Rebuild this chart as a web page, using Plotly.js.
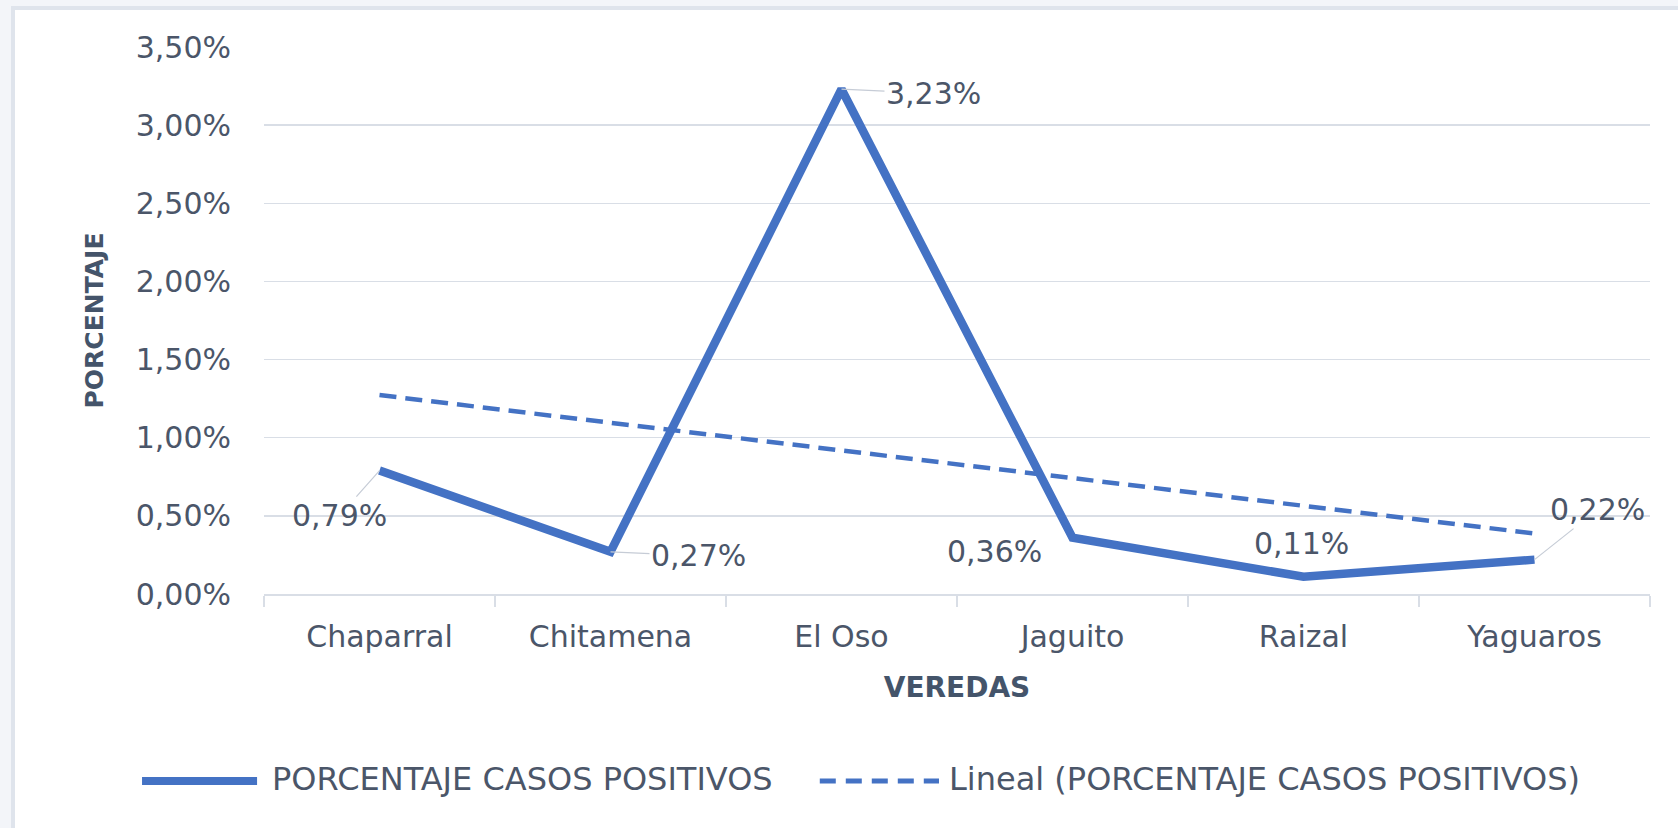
<!DOCTYPE html>
<html>
<head>
<meta charset="utf-8">
<script src="https://cdn.plot.ly/plotly-3.0.1.min.js"></script>
<style>
  html, body { margin: 0; padding: 0; background: #f3f5f9; width: 1678px; height: 828px; overflow: hidden; }
  #frame { position: absolute; left: 11px; top: 6px; width: 1667px; height: 822px; background: #ffffff;
           border-left: 4px solid #dfe4ec; border-top: 4px solid #dfe4ec; box-sizing: border-box; }
  #chart { position: absolute; left: 15px; top: 10px; width: 1663px; height: 818px; }
</style>
</head>
<body>
<div id="frame"></div>
<div id="chart"></div>
<script>
const categories = ["Chaparral", "Chitamena", "El Oso", "Jaguito", "Raizal", "Yaguaros"];
const porcentaje = [0.79, 0.27, 3.23, 0.36, 0.11, 0.22];
const seriesName = "PORCENTAJE CASOS POSITIVOS";
const trendName = "Lineal (PORCENTAJE CASOS POSITIVOS)";
const labelTexts = ["0,79%", "0,27%", "3,23%", "0,36%", "0,11%", "0,22%"];
const yTickVals = [0, 0.5, 1, 1.5, 2, 2.5, 3, 3.5];
const yTickText = ["0,00%", "0,50%", "1,00%", "1,50%", "2,00%", "2,50%", "3,00%", "3,50%"];

// linear least-squares trendline (as Excel's "Lineal" trendline)
const n = porcentaje.length;
const xs = porcentaje.map((_, i) => i + 1);
const mx = xs.reduce((a, b) => a + b, 0) / n;
const my = porcentaje.reduce((a, b) => a + b, 0) / n;
let sxy = 0, sxx = 0;
for (let i = 0; i < n; i++) { sxy += (xs[i] - mx) * (porcentaje[i] - my); sxx += (xs[i] - mx) ** 2; }
const slope = sxy / sxx, intercept = my - slope * mx;
const trend = xs.map(x => intercept + slope * x);

const blue = "#4472C4";
const txt = "#4b5669";
const titleCol = "#44546A";
const grid = "#d9dee6";
const FONT = "DejaVu Sans, sans-serif";

const traces = [
  { x: categories, y: porcentaje, type: "scatter", mode: "lines", name: seriesName,
    line: { color: blue, width: 8.5 }, hoverinfo: "skip", showlegend: false },
  { x: categories, y: trend, type: "scatter", mode: "lines", name: trendName,
    line: { color: blue, width: 4.5, dash: "17px,9px" }, hoverinfo: "skip", showlegend: false }
];

// data label offsets (pixels) and leader settings
const labelCfg = [
  { ax: -40, ay: 45, arrow: true },
  { ax: 88, ay: 4, arrow: true },
  { ax: 92, ay: 4, arrow: true },
  { ax: 0, ay: 0, arrow: false, xs: -78, ys: -14 },
  { ax: 0, ay: 0, arrow: false, xs: -2, ys: 33 },
  { ax: 63, ay: -50, arrow: true }
];
const annotations = categories.map((c, i) => {
  const cfg = labelCfg[i];
  const a = { x: c, y: porcentaje[i], xref: "x", yref: "y", text: labelTexts[i],
              font: { family: FONT, size: 30, color: txt } };
  if (cfg.arrow) {
    Object.assign(a, { showarrow: true, ax: cfg.ax, ay: cfg.ay, arrowhead: 0, arrowwidth: 1.2,
                       arrowcolor: "#c6ccd6", standoff: 0 });
  } else {
    Object.assign(a, { showarrow: false, xshift: cfg.xs, yshift: cfg.ys });
  }
  return a;
});

// manual legend (long line samples as in the reference)
const legY = -0.338;
annotations.push(
  { xref: "paper", yref: "paper", x: 0.0040, y: legY, xanchor: "left", yanchor: "middle", showarrow: false,
    text: seriesName, font: { family: FONT, size: 32, color: txt } },
  { xref: "paper", yref: "paper", x: 0.4930, y: legY, xanchor: "left", yanchor: "middle", showarrow: false,
    text: trendName, font: { family: FONT, size: 32, color: txt } }
);
const shapes = [
  { type: "line", xref: "paper", yref: "paper", x0: -0.0880, x1: -0.0050, y0: legY - 0.004, y1: legY - 0.004,
    line: { color: blue, width: 8 } },
  { type: "line", xref: "paper", yref: "paper", x0: 0.4010, x1: 0.4870, y0: legY - 0.004, y1: legY - 0.004,
    line: { color: blue, width: 5, dash: "16px,10px" } }
];

const layout = {
  width: 1663, height: 818,
  margin: { l: 249, r: 28, t: 37, b: 234 },
  paper_bgcolor: "rgba(0,0,0,0)",
  plot_bgcolor: "#ffffff",
  showlegend: false,
  xaxis: {
    type: "category", categoryorder: "array", categoryarray: categories,
    range: [-0.5, categories.length - 0.5],
    tickson: "boundaries", ticks: "outside", ticklen: 11, tickcolor: grid, tickwidth: 1.5,
    showline: true, linecolor: grid, linewidth: 1.5, showgrid: false, zeroline: false,
    ticklabelstandoff: 15,
    tickfont: { family: FONT, size: 30, color: txt },
    title: { text: "VEREDAS", font: { family: FONT, size: 28, color: titleCol, weight: "bold" }, standoff: 25 }
  },
  yaxis: {
    range: [0, 3.5], tickmode: "array", tickvals: yTickVals, ticktext: yTickText,
    showgrid: true, gridcolor: grid, gridwidth: 1.5, zeroline: false, showline: false,
    ticks: "", ticklabelstandoff: 32,
    tickfont: { family: FONT, size: 30, color: txt },
    title: { text: "PORCENTAJE", font: { family: FONT, size: 25, color: titleCol, weight: "bold" }, standoff: 24 }
  },
  annotations: annotations,
  shapes: shapes
};

Plotly.newPlot("chart", traces, layout, { staticPlot: true, displayModeBar: false });
</script>
</body>
</html>
